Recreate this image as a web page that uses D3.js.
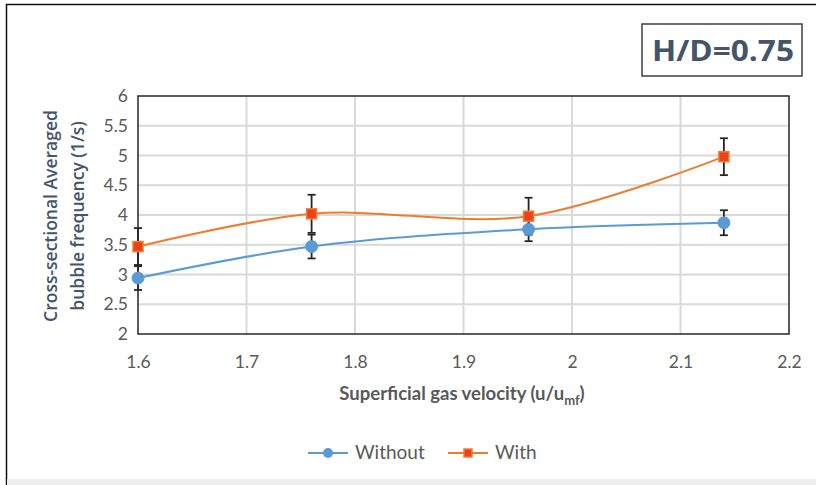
<!DOCTYPE html>
<html lang="en">
<head>
    <meta charset="utf-8">
    <title>Bubble frequency H/D=0.75</title>
    <script src="https://d3js.org/d3.v7.min.js"></script>
    <style>
        body { margin: 0; background: #fff; }
        text { font-family: Lato, "Open Sans", sans-serif; }
    </style>
</head>
<body>
    <script>
        // chart data
        var velocity = [1.6, 1.76, 1.96, 2.14];
        var without = [2.94, 3.47, 3.76, 3.87];
        var withoutErr = [0.2, 0.2, 0.2, 0.21];
        var withBaffle = [3.47, 4.02, 3.98, 4.98];
        var withErr = [0.31, 0.32, 0.31, 0.31];
        var xTicks = [1.6, 1.7, 1.8, 1.9, 2, 2.1, 2.2];
        var yTicks = [2, 2.5, 3, 3.5, 4, 4.5, 5, 5.5, 6];
        var seriesNames = ["Without", "With"];

        var width = 816;
        var height = 485;
        var plot = { left: 138, right: 789, top: 96, bottom: 334 };

        var svg = d3.select("body")
            .append("svg")
            .attr("width", width)
            .attr("height", height);

        // outer frame (top + left dark edge, light bottom band)
        svg.append("rect").attr("x", 0).attr("y", 0).attr("width", width).attr("height", height).attr("fill", "#fff");
        svg.append("line").attr("x1", 6).attr("x2", width).attr("y1", 4.5).attr("y2", 4.5)
            .attr("stroke", "#111").attr("stroke-width", 1.5);
        svg.append("line").attr("x1", 6.5).attr("x2", 6.5).attr("y1", 4).attr("y2", height)
            .attr("stroke", "#111").attr("stroke-width", 1.5);
        svg.append("rect").attr("x", 7).attr("y", 479).attr("width", width).attr("height", 6).attr("fill", "#eeeeee");

        var x = d3.scaleLinear().domain([1.6, 2.2]).range([plot.left, plot.right]);
        var y = d3.scaleLinear().domain([2, 6]).range([plot.bottom, plot.top]);

        // gridlines
        svg.append("g").selectAll("line.v")
            .data(xTicks.slice(1, -1))
            .enter().append("line")
            .attr("x1", d => x(d)).attr("x2", d => x(d))
            .attr("y1", plot.top).attr("y2", plot.bottom)
            .attr("stroke", "#d9d9d9").attr("stroke-width", 2);
        svg.append("g").selectAll("line.h")
            .data(yTicks.slice(1, -1))
            .enter().append("line")
            .attr("x1", plot.left).attr("x2", plot.right)
            .attr("y1", d => y(d)).attr("y2", d => y(d))
            .attr("stroke", "#d9d9d9").attr("stroke-width", 2);

        // plot box
        svg.append("rect")
            .attr("x", plot.left).attr("y", plot.top)
            .attr("width", plot.right - plot.left).attr("height", plot.bottom - plot.top)
            .attr("fill", "none").attr("stroke", "#262626").attr("stroke-width", 1.5);

        // axes (labels only)
        var xAxis = svg.append("g")
            .attr("transform", "translate(0," + plot.bottom + ")")
            .call(d3.axisBottom(x).tickValues(xTicks).tickSize(0).tickPadding(22).tickFormat(d3.format("")));
        var yAxis = svg.append("g")
            .attr("transform", "translate(" + plot.left + ",0)")
            .call(d3.axisLeft(y).tickValues(yTicks).tickSize(0).tickPadding(10).tickFormat(d3.format("")));
        [xAxis, yAxis].forEach(function (a) {
            a.select(".domain").remove();
            a.selectAll("text")
                .attr("fill", "#595959")
                .style("font-size", "17.5px")
                .style("font-family", "Lato, sans-serif");
        });

        var line = d3.line()
            .x(d => x(d[0]))
            .y(d => y(d[1]))
            .curve(d3.curveCatmullRom.alpha(0.5));

        var series = [
            { name: seriesNames[0], vals: without, err: withoutErr, color: "#5b9bd5" },
            { name: seriesNames[1], vals: withBaffle, err: withErr, color: "#ed7d31" }
        ];

        series.forEach(function (s) {
            var pts = velocity.map((v, i) => [v, s.vals[i]]);
            svg.append("path")
                .attr("d", line(pts))
                .attr("fill", "none")
                .attr("stroke", s.color)
                .attr("stroke-width", 2);
        });

        // error bars
        series.forEach(function (s) {
            var g = svg.append("g").attr("stroke", "#262626").attr("stroke-width", 1.8);
            velocity.forEach(function (v, i) {
                var hi = y(s.vals[i] + s.err[i]);
                var lo = y(s.vals[i] - s.err[i]);
                g.append("line").attr("x1", x(v)).attr("x2", x(v)).attr("y1", hi).attr("y2", lo);
                g.append("line").attr("x1", x(v) - 4).attr("x2", x(v) + 4).attr("y1", hi).attr("y2", hi);
                g.append("line").attr("x1", x(v) - 4).attr("x2", x(v) + 4).attr("y1", lo).attr("y2", lo);
            });
        });

        // markers
        function circleMarker(g, cx, cy) {
            g.append("circle").attr("cx", cx).attr("cy", cy).attr("r", 6)
                .attr("fill", "#5b9bd5").attr("stroke", "#5b9bd5");
        }
        function squareMarker(g, cx, cy) {
            g.append("rect").attr("x", cx - 5).attr("y", cy - 5).attr("width", 10).attr("height", 10)
                .attr("fill", "#f0401a").attr("stroke", "#ed7d31").attr("stroke-width", 1.5);
        }
        var mk = svg.append("g");
        velocity.forEach(function (v, i) {
            circleMarker(mk, x(v), y(without[i]));
        });
        velocity.forEach(function (v, i) {
            squareMarker(mk, x(v), y(withBaffle[i]));
        });

        // x axis title
        var xt = svg.append("text")
            .attr("x", 462).attr("y", 400)
            .attr("text-anchor", "middle")
            .attr("fill", "#595959")
            .style("font-size", "18.5px").style("font-weight", "bold");
        xt.append("tspan").text("Superficial gas velocity (u/u");
        xt.append("tspan").attr("dy", 5).style("font-size", "13px").text("mf");
        xt.append("tspan").attr("dy", -5).text(")");

        // y axis title (two lines)
        var yt = svg.append("text")
            .attr("transform", "translate(0,216) rotate(-90)")
            .attr("text-anchor", "middle")
            .attr("fill", "#44546a")
            .style("font-family", "'Open Sans', sans-serif")
            .style("font-size", "17.5px").style("font-weight", 600);
        yt.append("tspan").attr("x", 0).attr("y", 57).text("Cross-sectional Averaged");
        yt.append("tspan").attr("x", 0).attr("y", 84).text("bubble frequency (1/s)");

        // H/D label box
        svg.append("rect")
            .attr("x", 642).attr("y", 24).attr("width", 160).attr("height", 52)
            .attr("fill", "#fff").attr("stroke", "#404040").attr("stroke-width", 1.5);
        svg.append("text")
            .attr("x", 723).attr("y", 61)
            .attr("text-anchor", "middle")
            .attr("fill", "#44546a")
            .attr("textLength", 142)
            .attr("lengthAdjust", "spacingAndGlyphs")
            .style("font-family", "'Open Sans', sans-serif")
            .style("font-size", "28px").style("font-weight", "bold")
            .text("H/D=0.75");

        // legend
        var legend = svg.append("g");
        var legendItems = [
            { name: series[0].name, x: 308, color: series[0].color, draw: circleMarker },
            { name: series[1].name, x: 448, color: series[1].color, draw: squareMarker }
        ];
        legendItems.forEach(function (it) {
            legend.append("line")
                .attr("x1", it.x).attr("x2", it.x + 40)
                .attr("y1", 453).attr("y2", 453)
                .attr("stroke", it.color).attr("stroke-width", 2);
            if (it.draw === circleMarker) {
                legend.append("circle").attr("cx", it.x + 20).attr("cy", 453).attr("r", 5).attr("fill", it.color);
            } else {
                legend.append("rect").attr("x", it.x + 16).attr("y", 449).attr("width", 8).attr("height", 8)
                    .attr("fill", "#f0401a").attr("stroke", it.color).attr("stroke-width", 1.5);
            }
            legend.append("text")
                .attr("x", it.x + 47).attr("y", 459)
                .attr("fill", "#595959")
                .style("font-size", "19px")
                .text(it.name);
        });
    </script>
</body>
</html>
